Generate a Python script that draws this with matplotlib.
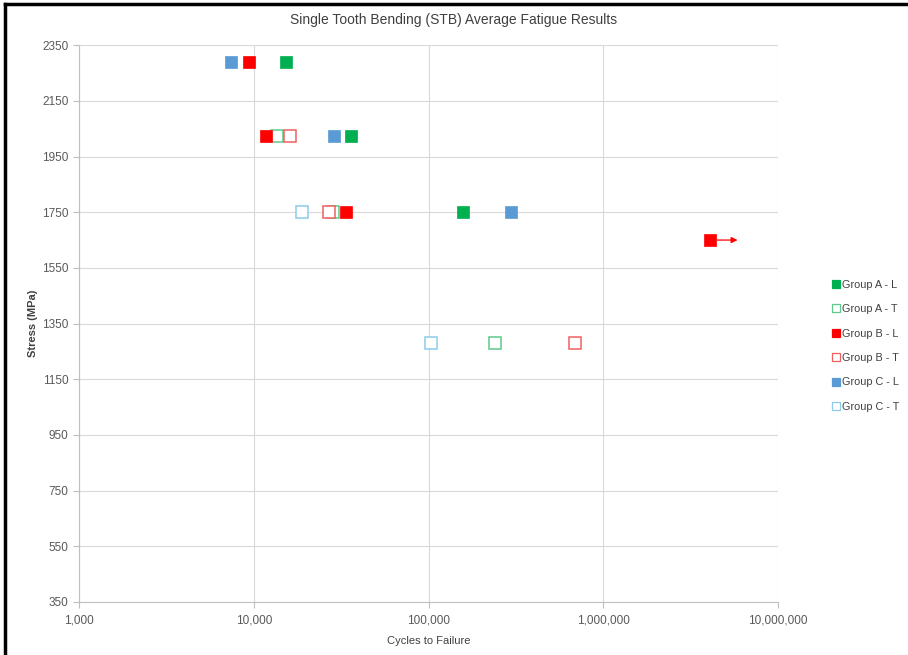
import matplotlib.pyplot as plt
from matplotlib.ticker import FixedLocator, FuncFormatter, NullLocator
from matplotlib.lines import Line2D

plt.rcParams['font.family'] = ['Liberation Sans', 'DejaVu Sans']

# average cycles to failure and stress level per group / orientation
a_l_cycles = [15300, 36000, 157500]
a_l_stress = [2290, 2025, 1750]
a_t_cycles = [13600, 28300, 238600]
a_t_stress = [2025, 1750, 1280]
b_l_cycles = [9400, 11750, 33700]
b_l_stress = [2290, 2025, 1750]
b_t_cycles = [16100, 27000, 689000]
b_t_stress = [2025, 1750, 1280]
c_l_cycles = [7400, 28800, 294600]
c_l_stress = [2290, 2025, 1750]
c_t_cycles = [18900, 103300]
c_t_stress = [1750, 1280]

# run-out specimen (no failure), shown with an arrow
runout_cycles = 4050000
runout_stress = 1650

series = [
    ('Group A - L', a_l_cycles, a_l_stress, '#00B050', True),
    ('Group A - T', a_t_cycles, a_t_stress, '#5CC98A', False),
    ('Group B - L', b_l_cycles, b_l_stress, '#FF0000', True),
    ('Group B - T', b_t_cycles, b_t_stress, '#F06060', False),
    ('Group C - L', c_l_cycles, c_l_stress, '#5B9BD5', True),
    ('Group C - T', c_t_cycles, c_t_stress, '#8CCBEB', False),
]

fig = plt.figure(figsize=(9.08, 6.55), dpi=100)
ax = fig.add_axes([0.087, 0.081, 0.77, 0.85])

handles = []
for label, xs, ys, color, filled in series:
    face = color if filled else 'white'
    ax.plot(xs, ys, linestyle='none', marker='s', markersize=8.6,
            markerfacecolor=face, markeredgecolor=color,
            markeredgewidth=1.1 if not filled else 0.5, zorder=3)
    handles.append(Line2D([], [], linestyle='none', marker='s', markersize=5.5,
                          markerfacecolor=face, markeredgecolor=color,
                          markeredgewidth=0.9, label=label))

ax.plot([runout_cycles], [runout_stress], linestyle='none', marker='s',
        markersize=8.6, markerfacecolor='#FF0000', markeredgecolor='#FF0000',
        markeredgewidth=0.5, zorder=3)
ax.annotate('', xy=(runout_cycles * 1.5, runout_stress),
            xytext=(runout_cycles * 1.07, runout_stress),
            arrowprops=dict(arrowstyle='-|>', color='#FF0000', lw=0.9,
                            mutation_scale=9), zorder=3)

ax.set_xscale('log')
ax.set_xlim(1000, 10000000)
ax.set_ylim(350, 2350)
ax.xaxis.set_major_locator(FixedLocator([1e3, 1e4, 1e5, 1e6, 1e7]))
ax.xaxis.set_minor_locator(NullLocator())
ax.xaxis.set_major_formatter(FuncFormatter(lambda v, p: f'{int(round(v)):,}'))
ax.set_yticks(range(350, 2351, 200))

ax.grid(True, color='#D9D9D9', linewidth=0.8)
ax.set_axisbelow(True)
for side in ['top', 'right']:
    ax.spines[side].set_visible(False)
for side in ['left', 'bottom']:
    ax.spines[side].set_color('#BFBFBF')
    ax.spines[side].set_linewidth(0.8)
ax.tick_params(axis='both', colors='#BFBFBF', labelcolor='#595959',
               labelsize=8.5, length=4, width=0.8)
ax.tick_params(axis='x', pad=5)

ax.set_xlabel('Cycles to Failure', fontsize=8, color='#404040', labelpad=7)
ax.set_ylabel('Stress (MPa)', fontsize=8, color='#404040',
              fontweight='bold', labelpad=3)
fig.text(0.5, 0.969, 'Single Tooth Bending (STB) Average Fatigue Results',
         ha='center', va='center', fontsize=10, color='#404040')

fig.legend(handles=handles, loc='center left', bbox_to_anchor=(0.911, 0.472),
           frameon=False, fontsize=7.8, labelspacing=1.33, handlelength=0.6,
           handletextpad=0.25, borderpad=0, labelcolor='#404040')

# frame around the chart image
fig.add_artist(Line2D([0.006, 1.0], [0.994, 0.994], color='black', lw=2.5,
                      transform=fig.transFigure))
fig.add_artist(Line2D([0.006, 0.006], [0.0, 0.994], color='black', lw=2.5,
                      transform=fig.transFigure))

fig.savefig('out.png', dpi=100)
